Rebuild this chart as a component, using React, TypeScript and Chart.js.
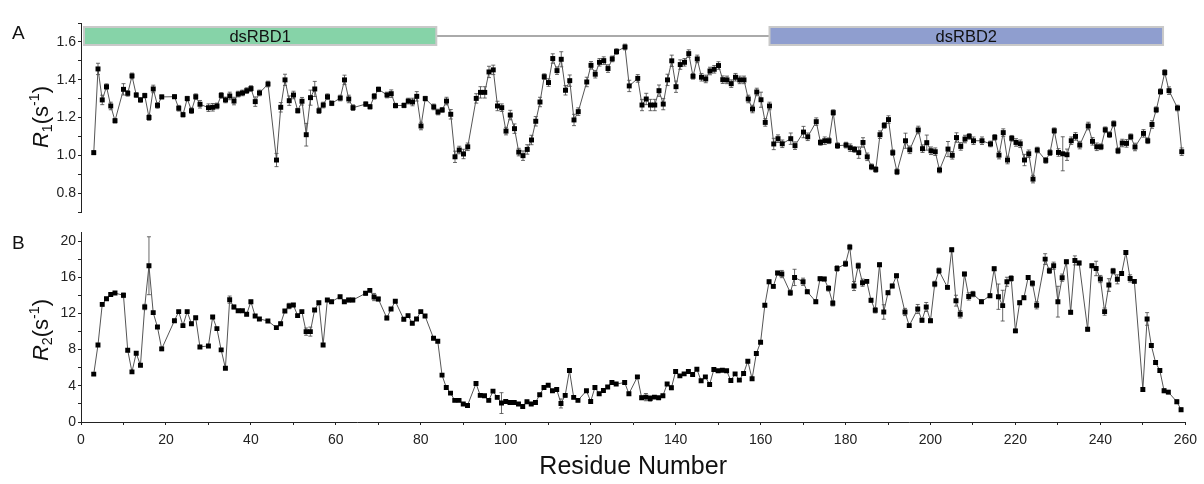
import React, { useEffect, useRef } from 'react';
import { Chart, registerables } from 'chart.js';
Chart.register(...registerables);

// ---------- data ----------
const r1Residues = [3,4,5,6,7,8,10,11,12,13,14,15,16,17,18,19,22,23,24,25,26,27,28,30,31,32,33,34,35,36,37,38,39,40,41,42,44,46,47,48,49,50,51,52,53,54,55,56,57,58,59,61,62,63,64,67,68,69,70,72,73,74,76,77,78,79,80,81,83,84,85,86,87,88,89,90,91,93,94,95,96,97,98,99,100,101,102,103,104,105,106,107,108,109,110,111,112,113,114,115,116,117,119,120,121,122,123,124,125,126,128,129,131,132,133,134,135,136,137,138,139,140,141,142,143,144,145,146,147,148,149,150,151,152,153,154,155,156,157,158,159,160,161,162,163,164,165,167,168,170,171,173,174,175,176,177,178,180,181,182,183,184,185,186,187,188,189,190,191,192,194,195,197,198,199,200,201,202,204,205,206,207,208,209,210,212,214,215,216,217,218,219,220,221,222,223,224,225,227,228,229,230,231,232,233,234,235,237,238,239,240,241,242,243,244,245,246,247,248,250,251,252,253,254,255,256,258,259];
const r1Values = [1.014,1.457,1.293,1.363,1.261,1.183,1.349,1.328,1.42,1.319,1.293,1.316,1.2,1.351,1.264,1.309,1.31,1.249,1.215,1.3,1.236,1.31,1.27,1.252,1.254,1.261,1.317,1.293,1.314,1.287,1.324,1.33,1.342,1.353,1.284,1.33,1.377,0.975,1.254,1.399,1.289,1.319,1.236,1.286,1.109,1.305,1.351,1.236,1.266,1.31,1.275,1.303,1.399,1.298,1.252,1.271,1.257,1.312,1.349,1.319,1.326,1.263,1.264,1.287,1.282,1.312,1.155,1.3,1.256,1.229,1.24,1.287,1.217,0.992,1.028,1.007,1.045,1.301,1.333,1.333,1.441,1.452,1.261,1.252,1.128,1.213,1.141,1.017,0.998,1.031,1.081,1.18,1.282,1.416,1.385,1.512,1.448,1.508,1.344,1.395,1.187,1.231,1.388,1.476,1.429,1.492,1.501,1.459,1.51,1.549,1.573,1.367,1.407,1.266,1.298,1.266,1.266,1.342,1.271,1.399,1.5,1.363,1.48,1.492,1.538,1.418,1.51,1.413,1.404,1.446,1.455,1.475,1.4,1.399,1.379,1.413,1.399,1.399,1.298,1.245,1.335,1.294,1.174,1.261,1.06,1.088,1.061,1.088,1.051,1.123,1.098,1.178,1.068,1.077,1.077,1.226,1.051,1.054,1.04,1.031,1.014,1.068,0.992,0.939,0.925,1.109,1.158,1.189,1.014,0.913,1.077,1.029,1.134,1.035,1.067,1.024,1.019,0.922,1.033,1.0,1.094,1.047,1.086,1.1,1.077,1.077,1.06,1.095,1.001,1.12,0.975,1.09,1.068,1.061,0.975,1.008,0.874,1.028,0.973,1.014,1.13,1.015,1.008,1.003,1.077,1.1,1.054,1.155,1.074,1.045,1.045,1.135,1.109,1.167,1.024,1.065,1.063,1.098,1.044,1.116,1.077,1.163,1.241,1.337,1.438,1.342,1.25,1.019];
const r1Errors = [0.01,0.03,0.025,0.015,0.02,0.012,0.03,0.015,0.015,0.012,0.012,0.012,0.015,0.02,0.015,0.01,0.01,0.015,0.012,0.012,0.015,0.015,0.02,0.02,0.02,0.015,0.015,0.015,0.02,0.02,0.015,0.015,0.015,0.015,0.025,0.015,0.015,0.035,0.025,0.03,0.025,0.02,0.012,0.02,0.06,0.04,0.04,0.015,0.015,0.015,0.012,0.015,0.025,0.02,0.015,0.012,0.012,0.015,0.012,0.015,0.02,0.012,0.012,0.015,0.02,0.025,0.02,0.012,0.015,0.015,0.012,0.02,0.025,0.03,0.02,0.025,0.02,0.025,0.03,0.03,0.03,0.025,0.025,0.02,0.02,0.025,0.025,0.02,0.025,0.025,0.025,0.025,0.025,0.015,0.02,0.025,0.02,0.04,0.025,0.03,0.03,0.02,0.025,0.02,0.02,0.02,0.02,0.02,0.015,0.015,0.015,0.03,0.02,0.03,0.03,0.03,0.03,0.03,0.03,0.03,0.03,0.03,0.025,0.02,0.02,0.015,0.02,0.02,0.02,0.02,0.02,0.02,0.02,0.02,0.02,0.02,0.02,0.02,0.02,0.02,0.02,0.04,0.02,0.02,0.03,0.02,0.02,0.03,0.02,0.03,0.02,0.02,0.015,0.02,0.015,0.015,0.015,0.015,0.02,0.015,0.03,0.025,0.02,0.015,0.015,0.02,0.015,0.02,0.015,0.015,0.04,0.02,0.02,0.02,0.04,0.02,0.02,0.015,0.04,0.02,0.025,0.02,0.02,0.015,0.02,0.02,0.015,0.015,0.02,0.02,0.02,0.015,0.02,0.02,0.03,0.02,0.02,0.015,0.015,0.015,0.015,0.02,0.09,0.03,0.02,0.02,0.02,0.02,0.02,0.02,0.015,0.015,0.015,0.015,0.015,0.02,0.02,0.015,0.02,0.02,0.015,0.02,0.015,0.015,0.015,0.02,0.015,0.02,0.02,0.02,0.02,0.02,0.015,0.02,0.015,0.01];

const r2Residues = [3,4,5,6,7,8,10,11,12,13,14,15,16,17,18,19,22,23,24,25,26,27,28,30,31,32,33,34,35,36,37,38,39,40,41,42,44,46,47,48,49,50,51,52,53,54,55,56,57,58,59,61,62,63,64,67,68,69,70,72,73,74,76,77,78,79,80,81,83,84,85,86,87,88,89,90,91,93,94,95,96,97,98,99,100,101,102,103,104,105,106,107,108,109,110,111,112,113,114,115,116,117,119,120,121,122,123,124,125,126,128,129,131,132,133,134,135,136,137,138,139,140,141,142,143,144,145,146,147,148,149,150,151,152,153,154,155,156,157,158,159,160,161,162,163,164,165,167,168,170,171,173,174,175,176,177,178,180,181,182,183,184,185,186,187,188,189,190,191,192,194,195,197,198,199,200,201,202,204,205,206,207,208,209,210,212,214,215,216,217,218,219,220,221,222,223,224,225,227,228,229,230,231,232,233,234,235,237,238,239,240,241,242,243,244,245,246,247,248,250,251,252,253,254,255,256,258,259];
const r2Values = [5.29,8.52,13.0,13.63,14.1,14.25,14.0,7.93,5.54,7.6,6.28,12.71,17.27,12.09,10.5,8.08,11.2,12.2,10.65,12.2,10.87,11.53,8.3,8.41,11.6,10.32,7.97,5.95,13.52,12.71,12.3,12.3,11.9,13.3,11.72,11.39,11.17,10.43,10.87,12.27,12.82,12.94,11.76,12.2,9.99,9.99,12.38,13.19,8.52,13.48,13.3,13.85,13.3,13.48,13.48,14.22,14.55,13.81,13.59,11.5,12.49,13.34,11.35,11.76,10.91,11.39,12.2,11.72,9.25,8.92,5.18,3.82,3.19,2.39,2.39,1.98,1.83,4.26,2.94,2.9,2.39,3.41,2.72,2.09,2.27,2.16,2.16,1.98,1.72,2.24,1.98,2.16,3.01,3.82,4.07,3.45,3.6,2.05,2.94,5.69,2.72,2.39,3.45,2.27,3.82,3.12,3.49,3.86,4.37,4.19,4.37,3.12,4.99,2.68,2.75,2.6,2.75,2.68,2.9,4.19,3.78,5.58,5.1,5.32,5.58,5.25,5.84,4.55,4.99,4.15,5.8,5.66,5.73,5.66,4.59,5.32,4.63,5.36,6.72,4.77,7.57,8.82,12.9,15.5,14.99,16.46,16.35,14.29,15.98,15.5,14.4,13.3,15.84,15.8,14.77,13.12,16.97,17.49,19.33,15.03,17.27,15.4,15.54,13.45,12.35,17.38,12.16,14.29,15.03,16.17,12.16,10.65,12.49,11.24,12.71,11.2,15.25,16.72,14.88,19.03,13.41,11.9,16.35,13.88,14.14,13.3,13.96,16.94,13.85,12.86,15.5,15.87,10.07,13.19,13.74,15.98,15.32,12.9,18.0,16.72,17.27,13.3,15.95,17.71,12.12,17.86,17.57,10.25,17.27,16.97,15.8,12.2,15.14,16.68,15.77,16.42,18.74,15.87,15.54,3.6,11.39,8.45,6.58,5.69,3.45,3.3,2.24,1.36];
const r2Errors = [0.15,0.15,0.2,0.15,0.15,0.15,0.25,0.15,0.15,0.15,0.15,0.3,3.2,0.15,0.15,0.2,0.15,0.15,0.15,0.15,0.15,0.15,0.15,0.15,0.15,0.15,0.15,0.15,0.4,0.2,0.15,0.15,0.15,0.15,0.15,0.15,0.15,0.15,0.15,0.15,0.3,0.15,0.15,0.15,0.4,0.5,0.15,0.15,0.15,0.15,0.15,0.15,0.15,0.2,0.2,0.2,0.15,0.4,0.2,0.2,0.15,0.15,0.15,0.15,0.15,0.15,0.15,0.15,0.15,0.15,0.15,0.15,0.15,0.15,0.15,0.15,0.15,0.15,0.15,0.15,0.15,0.15,0.15,1.15,0.15,0.15,0.15,0.15,0.15,0.15,0.15,0.15,0.15,0.15,0.15,0.15,0.15,0.5,0.2,0.2,0.15,0.15,0.15,0.15,0.15,0.15,0.15,0.15,0.15,0.15,0.15,0.15,0.15,0.2,0.4,0.3,0.15,0.15,0.15,0.15,0.2,0.15,0.15,0.15,0.15,0.15,0.15,0.15,0.15,0.15,0.15,0.15,0.15,0.15,0.15,0.15,0.15,0.15,0.15,0.15,0.15,0.15,0.15,0.2,0.2,0.2,0.4,0.3,0.9,0.4,0.2,0.2,0.2,0.2,0.3,0.3,0.3,0.3,0.3,0.5,0.3,0.4,0.2,0.2,0.3,0.2,0.8,0.2,0.2,0.2,0.4,0.2,0.5,0.2,0.5,0.2,0.3,0.3,0.2,0.2,0.6,0.4,0.2,0.4,0.3,0.2,0.2,0.2,1.4,1.7,0.5,0.3,0.2,0.2,0.2,0.2,0.3,0.4,0.6,0.3,0.4,1.7,0.4,0.2,0.2,0.5,0.2,0.2,0.2,0.8,0.4,0.4,0.7,0.3,0.5,0.2,0.2,0.4,0.2,0.2,0.7,0.2,0.2,0.2,0.2,0.2,0.2,0.2,0.2,0.2];

const domainNames = ['dsRBD1', 'dsRBD2'];
const domainStart = [0.7, 162];
const domainEnd = [83.6, 254.6];
const domainColors = ['#86d3a8', '#8f9ecf'];

const xTickValues = [0,10,20,30,40,50,60,70,80,90,100,110,120,130,140,150,160,170,180,190,200,210,220,230,240,250,260];
const xLabelValues = [0,20,40,60,80,100,120,140,160,180,200,220,240,260];
const r1TickValues = [0.7,0.8,0.9,1.0,1.1,1.2,1.3,1.4,1.5,1.6,1.7];
const r1LabelValues = [0.8,1.0,1.2,1.4,1.6];
const r2TickValues = [0,2,4,6,8,10,12,14,16,18,20];
const r2LabelValues = [0,4,8,12,16,20];

const FONT = '"Liberation Sans", Arial, sans-serif';
const AXIS = '#222';

function makeErrorPlugin(xs: number[], ys: number[], errs: number[]) {
  return {
    id: 'errorBars',
    beforeDatasetsDraw(chart: any) {
      const { ctx, scales } = chart;
      const xs_ = scales.x, ys_ = scales.y;
      ctx.save();
      ctx.strokeStyle = '#444';
      ctx.lineWidth = 0.8;
      for (let i = 0; i < xs.length; i++) {
        const px = xs_.getPixelForValue(xs[i]);
        const top = ys_.getPixelForValue(ys[i] + errs[i]);
        const bot = ys_.getPixelForValue(ys[i] - errs[i]);
        ctx.beginPath();
        ctx.moveTo(px, top); ctx.lineTo(px, bot);
        ctx.moveTo(px - 2, top); ctx.lineTo(px + 2, top);
        ctx.moveTo(px - 2, bot); ctx.lineTo(px + 2, bot);
        ctx.stroke();
      }
      ctx.restore();
    },
  };
}

const domainPlugin = {
  id: 'domains',
  afterDatasetsDraw(chart: any) {
    const { ctx, scales, chartArea } = chart;
    const x = scales.x;
    const y0 = chartArea.top + 4;
    const h = 18;
    ctx.save();
    ctx.strokeStyle = '#aaaaaa';
    ctx.lineWidth = 2;
    for (let i = 0; i < domainNames.length - 1; i++) {
      ctx.beginPath();
      ctx.moveTo(x.getPixelForValue(domainEnd[i]), y0 + h / 2);
      ctx.lineTo(x.getPixelForValue(domainStart[i + 1]), y0 + h / 2);
      ctx.stroke();
    }
    for (let i = 0; i < domainNames.length; i++) {
      const a = x.getPixelForValue(domainStart[i]);
      const b = x.getPixelForValue(domainEnd[i]);
      ctx.fillStyle = domainColors[i];
      ctx.fillRect(a, y0, b - a, h);
      ctx.strokeStyle = '#c9c9c9';
      ctx.lineWidth = 2;
      ctx.strokeRect(a, y0, b - a, h);
      ctx.fillStyle = '#111';
      ctx.font = `16.5px ${FONT}`;
      ctx.textAlign = 'center';
      ctx.textBaseline = 'middle';
      ctx.fillText(domainNames[i], (a + b) / 2, y0 + h / 2 + 1);
    }
    ctx.restore();
  },
};

function dataset(xs: number[], ys: number[]) {
  return {
    data: xs.map((x, i) => ({ x, y: ys[i] })),
    borderColor: '#555',
    borderWidth: 1,
    pointStyle: 'rect',
    pointRadius: 3.5,
    pointBackgroundColor: '#000',
    pointBorderColor: '#000',
    pointBorderWidth: 0,
    tension: 0,
  };
}

function yAxis(min: number, max: number, ticks: number[], labels: number[], width: number, decimals: number) {
  return {
    type: 'linear',
    min, max,
    afterFit: (s: any) => { s.width = width; },
    afterBuildTicks: (s: any) => { s.ticks = ticks.map((v) => ({ value: v })); },
    ticks: {
      font: { family: FONT, size: 14 },
      color: AXIS,
      padding: 2,
      autoSkip: false,
      callback: (v: number) => (labels.some((l) => Math.abs(l - v) < 1e-6) ? Number(v).toFixed(decimals) : ''),
    },
    grid: { drawOnChartArea: false, drawTicks: true, tickLength: 3, color: AXIS },
    border: { display: true, color: AXIS, width: 1 },
  };
}

export default function App() {
  const refA = useRef<HTMLCanvasElement>(null);
  const refB = useRef<HTMLCanvasElement>(null);

  useEffect(() => {
    const chartA = new Chart(refA.current as HTMLCanvasElement, {
      type: 'line',
      data: { datasets: [dataset(r1Residues, r1Values) as any] },
      options: {
        animation: false,
        responsive: false,
        devicePixelRatio: 1,
        layout: { padding: { left: 0, right: 18, top: 23, bottom: 272 } },
        plugins: { legend: { display: false }, tooltip: { enabled: false } },
        scales: {
          x: { type: 'linear', min: 0, max: 260, display: false },
          y: yAxis(0.7, 1.7, r1TickValues, r1LabelValues, 81, 1) as any,
        },
      },
      plugins: [makeErrorPlugin(r1Residues, r1Values, r1Errors), domainPlugin],
    });
    const chartB = new Chart(refB.current as HTMLCanvasElement, {
      type: 'line',
      data: { datasets: [dataset(r2Residues, r2Values) as any] },
      options: {
        animation: false,
        responsive: false,
        devicePixelRatio: 1,
        layout: { padding: { left: 0, right: 18, top: 232, bottom: 0 } },
        plugins: { legend: { display: false }, tooltip: { enabled: false } },
        scales: {
          x: {
            type: 'linear', min: 0, max: 260,
            afterFit: (s: any) => { s.height = 62; },
            afterBuildTicks: (s: any) => { s.ticks = xTickValues.map((v) => ({ value: v })); },
            ticks: {
              font: { family: FONT, size: 14 },
              color: AXIS,
              padding: 7,
              maxRotation: 0,
              autoSkip: false,
              callback: (v: number) => (xLabelValues.includes(v) ? String(v) : ''),
            },
            grid: { drawOnChartArea: false, drawTicks: true, tickLength: 3, color: AXIS },
            border: { display: true, color: AXIS, width: 1 },
            title: { display: true, text: 'Residue Number', font: { family: FONT, size: 25 }, color: '#111', padding: { top: 0, bottom: 2 } },
          },
          y: yAxis(0, 21, r2TickValues, r2LabelValues, 81, 0) as any,
        },
      },
      plugins: [makeErrorPlugin(r2Residues, r2Values, r2Errors)],
    });
    return () => { chartA.destroy(); chartB.destroy(); };
  }, []);

  const titleStyle: React.CSSProperties = {
    position: 'absolute',
    transform: 'translate(-50%, -50%) rotate(-90deg)',
    font: `22px ${FONT}`,
    color: '#111',
    whiteSpace: 'nowrap',
    lineHeight: 1,
  };
  const panelStyle: React.CSSProperties = {
    position: 'absolute',
    font: `19px ${FONT}`,
    color: '#111',
    lineHeight: 1,
  };

  return (
    <div style={{ position: 'fixed', left: 0, top: 0, width: 1204, height: 484, background: '#fff', overflow: 'hidden' }}>
      <canvas ref={refA} width={1204} height={484} style={{ position: 'absolute', left: 0, top: 0 }} />
      <canvas ref={refB} width={1204} height={484} style={{ position: 'absolute', left: 0, top: 0 }} />
      <div style={{ ...panelStyle, left: 12, top: 23 }}>A</div>
      <div style={{ ...panelStyle, left: 12, top: 233 }}>B</div>
      <div style={{ ...titleStyle, left: 41, top: 117 }}>
        <i>R</i><sub style={{ fontSize: '0.65em', verticalAlign: '-0.3em' }}>1</sub>(s<sup style={{ fontSize: '0.65em', verticalAlign: '0.6em' }}>-1</sup>)
      </div>
      <div style={{ ...titleStyle, left: 41, top: 330 }}>
        <i>R</i><sub style={{ fontSize: '0.65em', verticalAlign: '-0.3em' }}>2</sub>(s<sup style={{ fontSize: '0.65em', verticalAlign: '0.6em' }}>-1</sup>)
      </div>
    </div>
  );
}
